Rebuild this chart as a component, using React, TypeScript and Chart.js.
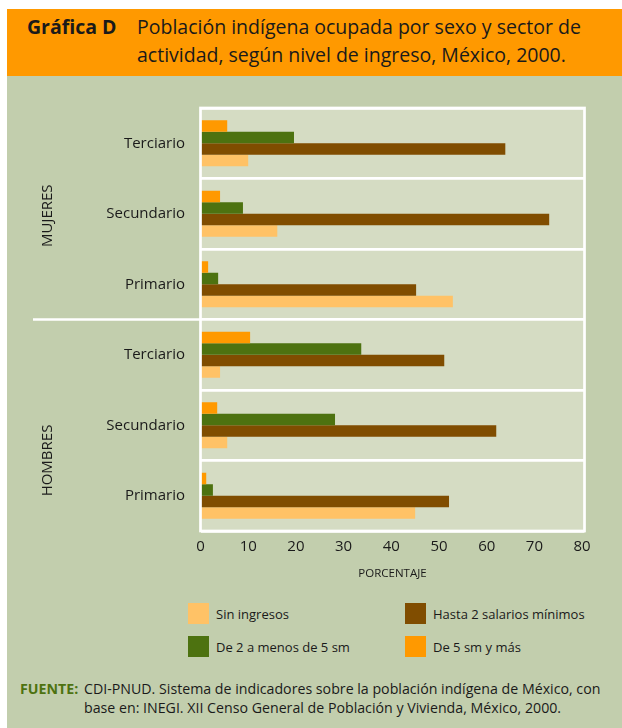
import React, { useEffect, useRef } from "react";
import { Chart, registerables } from "chart.js";

Chart.register(...registerables);

// ---------- DATA ----------
const categories = ["Terciario", "Secundario", "Primario", "Terciario", "Secundario", "Primario"];
const groupLabels = ["MUJERES", "HOMBRES"];
const xTickValues = [0, 10, 20, 30, 40, 50, 60, 70, 80];
const axisTitle = "PORCENTAJE";

const seriesNames = ["De 5 sm y más", "De 2 a menos de 5 sm", "Hasta 2 salarios mínimos", "Sin ingresos"];
const de5smYMas = [5.6, 4.1, 1.6, 10.4, 3.5, 1.2];
const de2aMenosDe5sm = [19.6, 8.9, 3.7, 33.7, 28.2, 2.6];
const hasta2Salarios = [63.9, 73.1, 45.2, 51.1, 62.0, 52.1];
const sinIngresos = [10.0, 16.1, 52.9, 4.1, 5.6, 45.0];

// ---------- STYLE ----------
const FONT = "'Open Sans', 'Noto Sans', sans-serif";
const C_ORANGE = "#FF9900";
const C_GREEN = "#4D7210";
const C_BROWN = "#804D00";
const C_LIGHT = "#FFC266";
const BG_GREEN = "#C2CEAD";
const PLOT_BG = "#D5DCC3";
const TEXT = "#1a1a1a";

const seriesColors = [C_ORANGE, C_GREEN, C_BROWN, C_LIGHT];
const seriesData = [de5smYMas, de2aMenosDe5sm, hasta2Salarios, sinIngresos];

const CANVAS_W = 615;
const CANVAS_H = 514;

const framePlugin = {
  id: "framePlugin",
  beforeDraw(chart: any) {
    const { ctx, chartArea: a } = chart;
    ctx.save();
    ctx.fillStyle = PLOT_BG;
    ctx.fillRect(a.left, a.top, a.right - a.left, a.bottom - a.top);
    ctx.restore();
  },
  afterDatasetsDraw(chart: any) {
    const { ctx, chartArea: a, scales } = chart;
    const y = scales.y;
    ctx.save();
    ctx.strokeStyle = "#ffffff";
    ctx.lineWidth = 2.7;
    ctx.strokeRect(a.left, a.top, a.right - a.left, a.bottom - a.top);
    const yMid = (y.getPixelForValue(2) + y.getPixelForValue(3)) / 2;
    ctx.beginPath();
    ctx.moveTo(26, yMid);
    ctx.lineTo(a.left, yMid);
    ctx.stroke();

    ctx.fillStyle = TEXT;
    ctx.font = `15px ${FONT}`;
    ctx.textAlign = "center";
    ctx.textBaseline = "middle";
    const yM = y.getPixelForValue(1) + 2;
    const yH = (y.getPixelForValue(4) + y.getPixelForValue(5)) / 2;
    [[groupLabels[0], yM], [groupLabels[1], yH]].forEach(([t, yy]) => {
      ctx.save();
      ctx.translate(41, yy as number);
      ctx.rotate(-Math.PI / 2);
      ctx.fillText(t as string, 0, 0);
      ctx.restore();
    });
    ctx.restore();
  },
};

function ChartCanvas() {
  const ref = useRef<HTMLCanvasElement | null>(null);
  useEffect(() => {
    if (!ref.current) return;
    const chart = new Chart(ref.current, {
      type: "bar",
      data: {
        labels: categories,
        datasets: seriesNames.map((n, i) => ({
          label: n,
          data: seriesData[i],
          backgroundColor: seriesColors[i],
          borderWidth: 0,
          categoryPercentage: 0.65,
          barPercentage: 1.0,
        })),
      },
      options: {
        indexAxis: "y",
        animation: false,
        responsive: false,
        maintainAspectRatio: false,
        layout: { padding: { left: 0, top: 32, right: 37.5, bottom: 0 } },
        plugins: { legend: { display: false }, tooltip: { enabled: false } },
        scales: {
          x: {
            min: 0,
            max: 80.5,
            afterBuildTicks: (s: any) => {
              s.ticks = xTickValues.map((v) => ({ value: v }));
            },
            afterFit: (s: any) => {
              s.height = 59;
            },
            grid: { display: false, drawTicks: false },
            border: { display: false },
            ticks: { color: TEXT, font: { family: FONT, size: 15 }, padding: 7, maxRotation: 0 },
            title: {
              display: true,
              text: axisTitle,
              color: TEXT,
              font: { family: FONT, size: 11.5 },
              padding: { top: 0, bottom: 9 },
            },
          },
          y: {
            afterFit: (s: any) => {
              s.width = 193.5;
            },
            grid: { display: true, color: "#ffffff", lineWidth: 2.7, offset: true, drawTicks: false },
            border: { display: false },
            ticks: { color: TEXT, font: { family: FONT, size: 15 }, padding: 15.5 },
          },
        },
      },
      plugins: [framePlugin],
    } as any);
    return () => chart.destroy();
  }, []);
  return <canvas ref={ref} width={CANVAS_W} height={CANVAS_H} style={{ display: "block", width: CANVAS_W, height: CANVAS_H }} />;
}

const legendItems = [
  { name: "Sin ingresos", color: C_LIGHT, left: 181, top: 594 },
  { name: "Hasta 2 salarios mínimos", color: C_BROWN, left: 398, top: 594 },
  { name: "De 2 a menos de 5 sm", color: C_GREEN, left: 181, top: 627 },
  { name: "De 5 sm y más", color: C_ORANGE, left: 398, top: 627 },
];

export default function App() {
  return (
    <>
      <style>{`body{margin:0;overflow:hidden;}`}</style>
      <div
        style={{
          position: "relative",
          marginLeft: 7,
          marginTop: 9,
          width: 615,
          height: 719,
          background: BG_GREEN,
          fontFamily: FONT,
          color: TEXT,
        }}
      >
        <div style={{ position: "relative", height: 67, background: C_ORANGE }}>
          <div style={{ position: "absolute", left: 20, top: 4, fontSize: 19.5, lineHeight: "28px", fontWeight: 700 }}>
            Gráfica D
          </div>
          <div style={{ position: "absolute", left: 130, top: 4, fontSize: 19.5, lineHeight: "28px", whiteSpace: "nowrap" }}>
            Población indígena ocupada por sexo y sector de
            <br />
            actividad, según nivel de ingreso, México, 2000.
          </div>
        </div>
        <ChartCanvas />
        {legendItems.map((it) => (
          <div key={it.name} style={{ position: "absolute", left: it.left, top: it.top, display: "flex", alignItems: "center", height: 21 }}>
            <div style={{ width: 21, height: 21, background: it.color }} />
            <div style={{ marginLeft: 7, fontSize: 13, whiteSpace: "nowrap" }}>{it.name}</div>
          </div>
        ))}
        <div style={{ position: "absolute", left: 13, top: 670, fontSize: 14.2, lineHeight: "19px", whiteSpace: "nowrap" }}>
          <span style={{ position: "absolute", left: 0, top: 0, fontWeight: 700, color: C_GREEN }}>FUENTE:</span>
          <div style={{ paddingLeft: 64 }}>
            CDI-PNUD. Sistema de indicadores sobre la población indígena de México, con
            <br />
            base en: INEGI. XII Censo General de Población y Vivienda, México, 2000.
          </div>
        </div>
      </div>
    </>
  );
}
